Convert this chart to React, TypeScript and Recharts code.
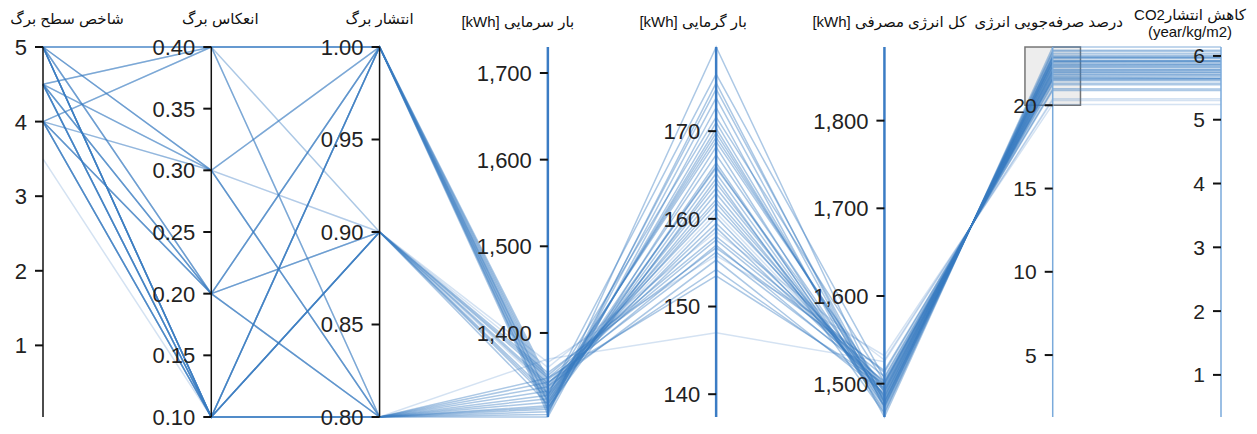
import React from 'react';
import { LineChart, Line, XAxis, YAxis, ReferenceLine, ReferenceDot, ReferenceArea } from 'recharts';

// ---- axis definitions ----
const axisTitles = [
  'شاخص سطح برگ',
  'انعکاس برگ',
  'انتشار برگ',
  '[kWh] بار سرمایی',
  '[kWh] بار گرمایی',
  '[kWh] کل انرژی مصرفی',
  'درصد صرفه‌جویی انرژی',
  'کاهش انتشارCO2',
];
const co2Subtitle = '(year/kg/m2)';

const axisDomains: [number, number][] = [
  [0.04, 5],
  [0.1, 0.4],
  [0.8, 1.0],
  [1303, 1730],
  [137.4, 179.6],
  [1462, 1884],
  [1.28, 23.5],
  [0.34, 6.14],
];

const laiTicks = [1, 2, 3, 4, 5];
const reflectanceTicks = [0.1, 0.15, 0.2, 0.25, 0.3, 0.35, 0.4];
const emissivityTicks = [0.8, 0.85, 0.9, 0.95, 1.0];
const coolingTicks = [1400, 1500, 1600, 1700];
const heatingTicks = [140, 150, 160, 170];
const totalTicks = [1500, 1600, 1700, 1800];
const savingTicks = [5, 10, 15, 20];
const co2Ticks = [1, 2, 3, 4, 5, 6];

// ---- data rows (one value per design) ----
const leafAreaIndex = [5, 5, 5, 5, 5, 5, 5, 4.5, 4.5, 4.5, 4.5, 4.5, 4, 4, 4, 4, 3.5, 5, 4.5, 4, 5, 4.5, 5, 4, 5, 4.5, 5, 4, 4.5, 5, 4, 4.5, 5, 4, 4.5, 5, 4, 4.5, 5, 4];
const leafReflectance = [0.4, 0.4, 0.3, 0.1, 0.1, 0.1, 0.2, 0.4, 0.3, 0.2, 0.1, 0.1, 0.4, 0.3, 0.1, 0.1, 0.1, 0.1, 0.2, 0.2, 0.4, 0.1, 0.3, 0.1, 0.2, 0.3, 0.1, 0.2, 0.1, 0.2, 0.3, 0.4, 0.1, 0.1, 0.2, 0.3, 0.4, 0.1, 0.1, 0.2];
const leafEmissivity = [1, 1, 0.9, 0.8, 0.9, 1, 0.8, 0.9, 1, 1, 0.8, 0.9, 0.8, 0.8, 1, 0.9, 0.8, 0.8, 0.9, 0.8, 0.8, 1, 1, 0.8, 0.9, 0.8, 1, 1, 0.9, 1, 0.9, 1, 0.9, 0.8, 0.8, 0.8, 1, 0.9, 1, 0.9];
const coolingLoad = [1310, 1322, 1336, 1306, 1330, 1314, 1316, 1348, 1326, 1318, 1309, 1342, 1338, 1343, 1306, 1324, 1370, 1303, 1354, 1320, 1348, 1312, 1330, 1312, 1360, 1328, 1320, 1334, 1318, 1338, 1366, 1342, 1327, 1324, 1333, 1314, 1346, 1339, 1328, 1351];
const heatingLoad = [168.2, 164.1, 160.7, 175.5, 171.6, 166.4, 170.3, 157.6, 162.9, 165.2, 173.8, 159.5, 155.3, 154.2, 179.6, 169.3, 147.0, 172.7, 156.7, 167.3, 153.5, 174.8, 161.8, 171.0, 158.5, 163.5, 169.8, 160.2, 166.0, 159.0, 155.8, 157.0, 168.8, 165.8, 162.2, 164.6, 156.2, 161.2, 176.5, 158.0];
const totalEnergy = [1467, 1479, 1494, 1472, 1502, 1470, 1479, 1508, 1483, 1474, 1474, 1501, 1489, 1495, 1478, 1490, 1525, 1462, 1515, 1481, 1500, 1480, 1487, 1476, 1527, 1486, 1484, 1491, 1475, 1496, 1532, 1498, 1493, 1485, 1492, 1466, 1503, 1499, 1506, 1513];
const energySaving = [23.25, 22.66, 21.92, 23.01, 21.53, 23.11, 22.64, 21.23, 22.46, 22.91, 22.9, 21.58, 22.17, 21.87, 22.71, 22.12, 20.39, 23.5, 20.89, 22.56, 21.63, 22.61, 22.27, 22.81, 20.3, 22.32, 22.42, 22.07, 22.86, 21.82, 20.05, 21.73, 21.97, 22.37, 22.02, 23.3, 21.48, 21.68, 21.33, 20.99];
const co2Reduction = [6.07, 5.92, 5.73, 6.01, 5.63, 6.04, 5.92, 5.55, 5.87, 5.99, 5.98, 5.64, 5.79, 5.71, 5.93, 5.78, 5.33, 6.14, 5.46, 5.89, 5.65, 5.91, 5.82, 5.96, 5.3, 5.83, 5.86, 5.77, 5.97, 5.7, 5.24, 5.68, 5.74, 5.85, 5.75, 6.09, 5.61, 5.65, 5.57, 5.48];

const faintRows = [16, 24, 30, 2];

const columns = [leafAreaIndex, leafReflectance, leafEmissivity, coolingLoad, heatingLoad, totalEnergy, energySaving, co2Reduction];
const axisTickValues = [laiTicks, reflectanceTicks, emissivityTicks, coolingTicks, heatingTicks, totalTicks, savingTicks, co2Ticks];

const norm = (a: number, v: number) => (v - axisDomains[a][0]) / (axisDomains[a][1] - axisDomains[a][0]);

const fmt = (a: number, v: number) => {
  if (a === 1 || a === 2) return v.toFixed(2);
  if (a === 3 || a === 5) return v.toLocaleString('en-US');
  return String(v);
};

const chartData = columns.map((col, a) => {
  const p: Record<string, number> = { axis: a };
  col.forEach((v, i) => {
    p['r' + i] = norm(a, v);
  });
  return p;
});

const LINE_COLOR = '#3a7dc2';
const TICK_FONT = "'Liberation Sans', Arial, Helvetica, sans-serif";
const TITLE_FONT = "'Liberation Sans', 'DejaVu Sans', sans-serif";

const titleOffsets = [24, 9, 0, -30, -23, 5, -4, -31];
const titleBaselines = [-23, -23, -23, -20, -20, -20, -20, -27];

export default function App() {
  return (
    <div style={{ position: 'absolute', left: 0, top: 0, background: '#fff' }}>
      <LineChart
        width={1257}
        height={434}
        data={chartData}
        margin={{ top: 47, right: 36, bottom: 17, left: 43 }}
      >
        <XAxis dataKey="axis" type="number" domain={[0, 7]} hide />
        <YAxis type="number" domain={[0, 1]} hide />
        {leafAreaIndex.map((_, i) => (
          <Line
            key={'r' + i}
            dataKey={'r' + i}
            type="linear"
            stroke={LINE_COLOR}
            strokeWidth={1.5}
            strokeOpacity={faintRows.includes(i) ? 0.22 : 0.42}
            dot={false}
            activeDot={false}
            isAnimationActive={false}
          />
        ))}
        {columns.map((_, a) => (
          <ReferenceLine
            key={'ax' + a}
            x={a}
            stroke={a < 3 ? '#111' : a < 6 ? '#3b7cc4' : '#7aaadb'}
            strokeWidth={a < 3 ? 1.5 : a < 6 ? 2.5 : 1.5}
          />
        ))}
        <ReferenceArea
          x1={6 - 0.165}
          x2={6 + 0.165}
          y1={norm(6, 20)}
          y2={1}
          fill="#888"
          fillOpacity={0.15}
          stroke="#555"
          strokeWidth={1.5}
          strokeOpacity={0.8}
        />
        {axisTickValues.map((ticks, a) =>
          ticks.map((t) => (
            <ReferenceDot
              key={'t' + a + '-' + t}
              x={a}
              y={norm(a, t)}
              r={0}
              ifOverflow="visible"
              shape={(p: any) => (
                <g>
                  <line x1={p.cx - 8} x2={p.cx} y1={p.cy} y2={p.cy} stroke="#111" strokeWidth={2} />
                  <text
                    x={p.cx - 16}
                    y={p.cy}
                    dy="0.36em"
                    textAnchor="end"
                    fontSize={a >= 6 ? 21 : 22}
                    fill="#222"
                    fontFamily={TICK_FONT}
                  >
                    {fmt(a, t)}
                  </text>
                </g>
              )}
            />
          ))
        )}
        {axisTitles.map((title, a) => (
          <ReferenceDot
            key={'title' + a}
            x={a}
            y={1}
            r={0}
            ifOverflow="visible"
            shape={(p: any) => (
              <g>
                <text
                  x={p.cx + titleOffsets[a]}
                  y={p.cy + titleBaselines[a]}
                  textAnchor="middle"
                  fontSize={15}
                  fill="#111"
                  fontFamily={TITLE_FONT}
                  direction={a === 7 ? 'rtl' : undefined}
                >
                  {title}
                </text>
                {a === 7 && (
                  <text
                    x={p.cx + titleOffsets[a]}
                    y={p.cy - 10}
                    textAnchor="middle"
                    fontSize={15}
                    fill="#111"
                    fontFamily={TITLE_FONT}
                  >
                    {co2Subtitle}
                  </text>
                )}
              </g>
            )}
          />
        ))}
      </LineChart>
    </div>
  );
}
